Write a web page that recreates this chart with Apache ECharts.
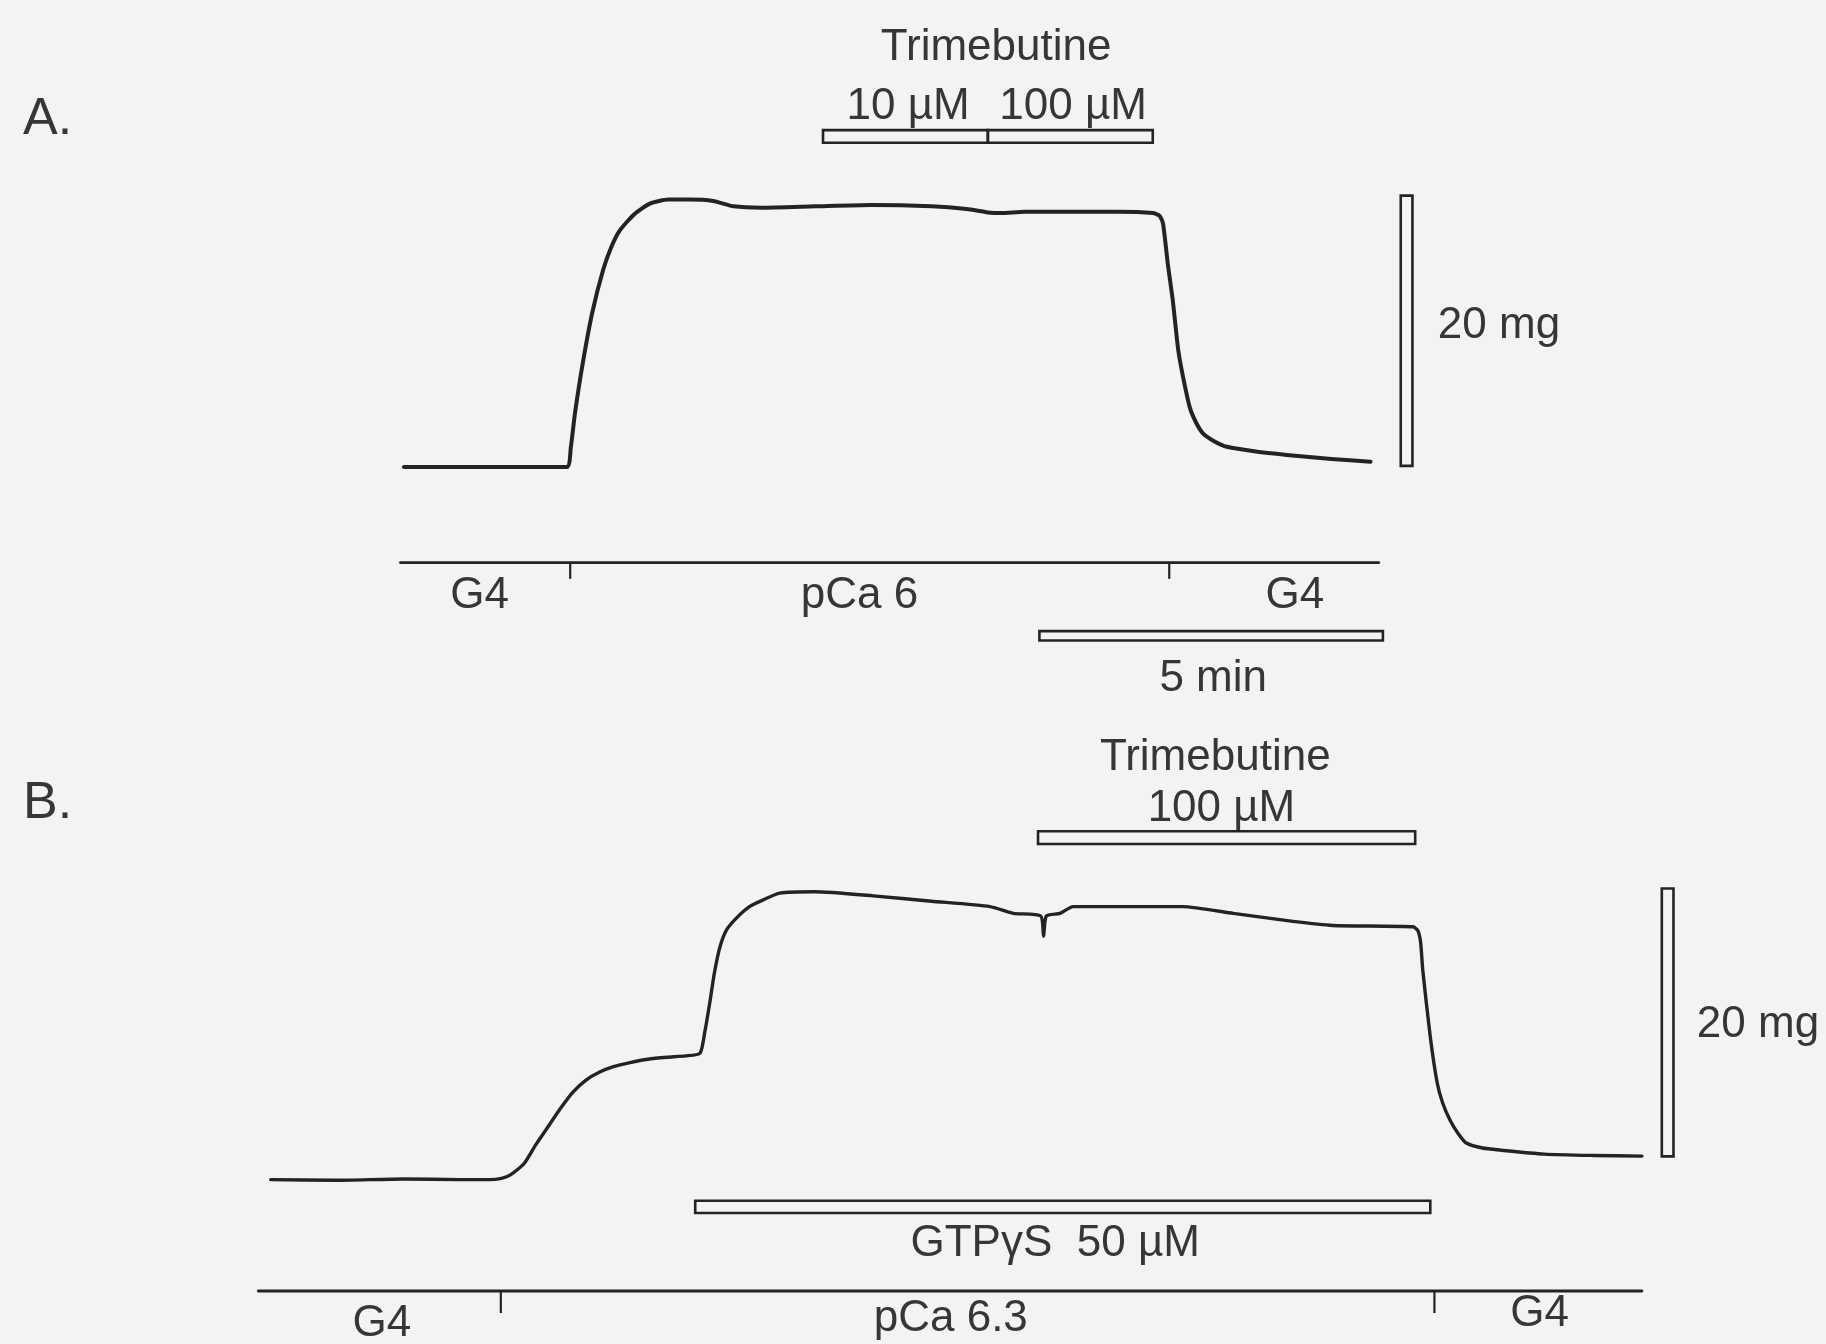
<!DOCTYPE html>
<html>
<head>
<meta charset="utf-8">
<script src="https://cdn.jsdelivr.net/npm/echarts@6/dist/echarts.min.js"></script>
<style>
  html, body { margin: 0; padding: 0; background: #f3f3f4; }
  #chart { width: 1826px; height: 1344px; }
</style>
</head>
<body>
<div id="chart"></div>
<script>
// ---- Data: time in minutes, tension in mg ----
// Panel A trace (pCa 6 contraction, trimebutine 10 / 100 µM)
const traceA = [
  [0, 0], [1.2, 0], [2.37, 0], [2.43, 1.5], [2.49, 4.0], [2.6, 7.6], [2.74, 11.4],
  [2.90, 14.6], [3.02, 16.3], [3.14, 17.5], [3.35, 18.7], [3.58, 19.5], [3.85, 19.8],
  [4.16, 19.8], [4.5, 19.7], [4.80, 19.3], [5.2, 19.2], [5.98, 19.3], [6.8, 19.4],
  [7.68, 19.3], [8.19, 19.1], [8.5, 18.85], [8.69, 18.8], [9.03, 18.9], [9.71, 18.9],
  [10.4, 18.9], [10.9, 18.8], [11.0, 18.6], [11.05, 18.0], [11.12, 15.0], [11.19, 12.4],
  [11.27, 8.7], [11.34, 6.7], [11.44, 4.4], [11.53, 3.3], [11.63, 2.5], [11.8, 1.9],
  [11.98, 1.5], [12.4, 1.15], [12.85, 0.9], [13.5, 0.6], [14.07, 0.4]
];
// Panel B trace (pCa 6.3 + GTPγS, trimebutine 100 µM)
const traceB = [
  [-1.94, 0], [-1.0, -0.05], [0, 0.05], [0.8, 0], [1.25, 0], [1.42, 0.1], [1.55, 0.35],
  [1.75, 1.2], [1.92, 2.6], [2.08, 3.8], [2.28, 5.3], [2.46, 6.5], [2.65, 7.4], [2.85, 8.0],
  [3.05, 8.4], [3.29, 8.7], [3.55, 8.95], [3.83, 9.1], [4.1, 9.2], [4.31, 9.4],
  [4.38, 11.0], [4.45, 13.1], [4.52, 15.4], [4.6, 17.3], [4.7, 18.6], [4.85, 19.5],
  [5.03, 20.3], [5.23, 20.8], [5.47, 21.3], [5.98, 21.4], [6.83, 21.1], [7.68, 20.7],
  [8.53, 20.3], [8.87, 19.8], [9.27, 19.6], [9.31, 18.1], [9.35, 19.6], [9.55, 19.8],
  [9.74, 20.3], [10.5, 20.3], [11.34, 20.3], [12.07, 19.8], [12.94, 19.2], [13.52, 18.9],
  [14.69, 18.8], [14.76, 18.5], [14.8, 17.6], [14.83, 15.6], [14.94, 10.6], [15.04, 7.2],
  [15.12, 5.7], [15.23, 4.4], [15.35, 3.4], [15.47, 2.7], [15.7, 2.35], [15.95, 2.2],
  [16.6, 1.9], [17.3, 1.8], [18.02, 1.75]
];

// Drug application bars [tStart, tEnd, mgBottom, mgTop]
const drugBarsA = [[6.10, 8.50, 24.0, 24.94], [8.50, 10.90, 24.0, 24.94]];
const drugBarsB = [[9.23, 14.72, 24.95, 25.9], [4.24, 14.94, -2.48, -1.57]];
// Calibration bars [tStart, tEnd, mgBottom, mgTop]
const calBarsA = [[14.51, 14.68, 0.09, 20.09], [9.25, 14.25, -12.84, -12.14]];
const calBarsB = [[18.31, 18.48, 1.73, 21.64]];

// Solution-change lines: [tStart, tEnd, mg] and tick times
const solLineA = [-0.05, 14.19, -7.07];
const solTicksA = [2.42, 11.14];
const solTickDepthA = -8.27;
const solLineB = [-2.12, 18.02, -8.28];
const solTicksB = [1.41, 15.0];
const solTickDepthB = -9.92;

// Text labels and their anchors [t, mg]
const textsA = ['Trimebutine', '10 \u00B5M', '100 \u00B5M', '20 mg', 'G4', 'pCa 6', 'G4', '5 min'];
const anchorsA = [[8.62, 31.05], [7.34, 26.67], [9.74, 26.67], [15.05, 10.43],
                  [1.10, -9.56], [6.63, -9.56], [12.97, -9.56], [11.78, -15.69]];
const textsB = ['Trimebutine', '100 \u00B5M', '20 mg', 'GTP\u03B3S  50 \u00B5M', 'G4', 'pCa 6.3', 'G4'];
const anchorsB = [[11.81, 31.38], [11.90, 27.6], [18.82, 11.51], [9.48, -4.79],
                  [-0.32, -10.73], [7.96, -10.36], [16.53, -9.96]];
const panelLetters = ['A.', 'B.'];
const letterAnchors = [[-5.545, 25.75], [-5.545, 27.95]];

// ---- Styles ----
const INK = '#232323';
const TXT = '#363636';
const FONT = '"Liberation Sans", Arial, sans-serif';

function segs(line) {
  return [[line[0], line[2]], [line[1], line[2]]];
}

function lineSeries(data, idx, width, smooth) {
  return {
    type: 'line', xAxisIndex: idx, yAxisIndex: idx, data: data,
    showSymbol: false, symbol: 'none', smooth: smooth, silent: true,
    lineStyle: { color: INK, width: width, cap: 'round', join: 'round' }
  };
}

function rectSeries(data, idx) {
  return {
    type: 'custom', xAxisIndex: idx, yAxisIndex: idx, data: data, silent: true,
    renderItem: function (p, api) {
      const a = api.coord([api.value(0), api.value(3)]);
      const b = api.coord([api.value(1), api.value(2)]);
      return {
        type: 'rect',
        shape: { x: a[0], y: a[1], width: b[0] - a[0], height: b[1] - a[1] },
        style: { fill: 'rgba(0,0,0,0)', stroke: INK, lineWidth: 2.6 }
      };
    }
  };
}

function tickSeries(ticks, base, depth, idx) {
  return {
    type: 'custom', xAxisIndex: idx, yAxisIndex: idx,
    data: ticks.map(function (t) { return [t, base, depth]; }), silent: true,
    renderItem: function (p, api) {
      const a = api.coord([api.value(0), api.value(1)]);
      const b = api.coord([api.value(0), api.value(2)]);
      return {
        type: 'line', shape: { x1: a[0], y1: a[1], x2: b[0], y2: b[1] },
        style: { stroke: INK, lineWidth: 2.2 }
      };
    }
  };
}

function textSeries(texts, anchors, idx, align, size) {
  return {
    type: 'custom', xAxisIndex: idx, yAxisIndex: idx, silent: true,
    data: anchors.map(function (a, i) { return [a[0], a[1], i]; }),
    renderItem: function (p, api) {
      const pt = api.coord([api.value(0), api.value(1)]);
      const txt = texts[api.value(2)];
      const al = (typeof align === 'function') ? align(txt) : align;
      return {
        type: 'text', x: pt[0], y: pt[1],
        style: {
          text: txt, fill: TXT, fontSize: size, fontFamily: FONT,
          align: al, verticalAlign: 'middle'
        }
      };
    }
  };
}

const alignFn = function (t) { return t === '20 mg' ? 'left' : 'center'; };

const chart = echarts.init(document.getElementById('chart'), null, { renderer: 'canvas' });
chart.setOption({
  backgroundColor: '#f3f3f4',
  animation: false,
  grid: [
    { left: 0, top: 0, width: 1826, height: 700 },
    { left: 0, top: 700, width: 1826, height: 644 }
  ],
  xAxis: [
    { gridIndex: 0, type: 'value', min: -5.88, max: 20.70, show: false },
    { gridIndex: 1, type: 'value', min: -5.88, max: 20.70, show: false }
  ],
  yAxis: [
    { gridIndex: 0, type: 'value', min: -17.24, max: 34.57, show: false },
    { gridIndex: 1, type: 'value', min: -12.22, max: 35.66, show: false }
  ],
  series: [
    lineSeries(traceA, 0, 4.0, 0.2),
    lineSeries(traceB, 1, 3.4, 0.2),
    lineSeries(segs(solLineA), 0, 2.8, false),
    lineSeries(segs(solLineB), 1, 2.8, false),
    tickSeries(solTicksA, solLineA[2], solTickDepthA, 0),
    tickSeries(solTicksB, solLineB[2], solTickDepthB, 1),
    rectSeries(drugBarsA, 0),
    rectSeries(calBarsA, 0),
    rectSeries(drugBarsB, 1),
    rectSeries(calBarsB, 1),
    textSeries(textsA, anchorsA, 0, alignFn, 44),
    textSeries(textsB, anchorsB, 1, alignFn, 44),
    textSeries([panelLetters[0]], [letterAnchors[0]], 0, 'left', 52),
    textSeries([panelLetters[1]], [letterAnchors[1]], 1, 'left', 52)
  ]
});
</script>
</body>
</html>
